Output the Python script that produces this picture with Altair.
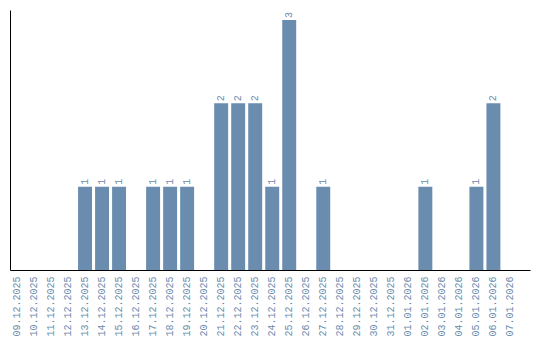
import altair as alt
import pandas as pd

dates = [
    "09.12.2025", "10.12.2025", "11.12.2025", "12.12.2025", "13.12.2025",
    "14.12.2025", "15.12.2025", "16.12.2025", "17.12.2025", "18.12.2025",
    "19.12.2025", "20.12.2025", "21.12.2025", "22.12.2025", "23.12.2025",
    "24.12.2025", "25.12.2025", "26.12.2025", "27.12.2025", "28.12.2025",
    "29.12.2025", "30.12.2025", "31.12.2025", "01.01.2026", "02.01.2026",
    "03.01.2026", "04.01.2026", "05.01.2026", "06.01.2026", "07.01.2026",
]
counts = [0, 0, 0, 0, 1, 1, 1, 0, 1, 1, 1, 0, 2, 2, 2, 1, 3, 0, 1, 0,
          0, 0, 0, 0, 1, 0, 0, 1, 2, 0]

df = pd.DataFrame({"date": dates, "value": counts})

COLOR = "#6a8cae"
FONT = "Liberation Mono"

x = alt.X(
    "date:N",
    sort=None,
    title=None,
    scale=alt.Scale(paddingInner=0.18, paddingOuter=0.37, align=0),
    axis=alt.Axis(
        labelAngle=270,
        labelAlign="right",
        labelBaseline="middle",
        labelColor=COLOR,
        labelFont=FONT,
        labelFontSize=10,
        labelPadding=6,
        ticks=False,
        domainColor="#000000",
        domainWidth=1,
        grid=False,
        labelOverlap=False,
    ),
)
y = alt.Y(
    "value:Q",
    title=None,
    scale=alt.Scale(domain=[0, 3.12], nice=False),
    axis=alt.Axis(labels=False, ticks=False, grid=False, domainColor="#000000", domainWidth=1),
)

bars = alt.Chart(df).mark_bar(color=COLOR).encode(x=x, y=y)
labels = (
    alt.Chart(df)
    .transform_filter("datum.value > 0")
    .mark_text(angle=270, align="left", baseline="middle", dx=2,
               color=COLOR, font=FONT, fontSize=10)
    .encode(x=x, y=y, text="value:Q")
)

chart = (
    alt.layer(bars, labels)
    .properties(
        width=520,
        height=260,
        autosize=alt.AutoSizeParams(type="none"),
        padding={"left": 10, "top": 10, "right": 10, "bottom": 70},
        background="white",
    )
    .configure_view(strokeWidth=0)
)

chart.save("out.html", embed_options={"renderer": "svg", "actions": False})
